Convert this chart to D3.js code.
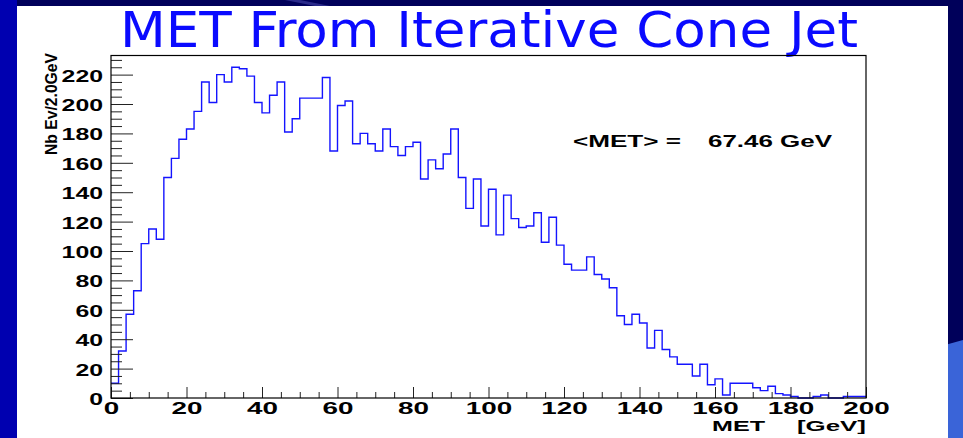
<!DOCTYPE html>
<html>
<head>
<meta charset="utf-8">
<script src="https://cdn.jsdelivr.net/npm/d3@7"></script>
<style>
  body { margin: 0; background: #00005a; }
  svg { display: block; }
  .lbl { font-family: "Liberation Sans", Arial, sans-serif; font-weight: bold; fill: #000; }
</style>
</head>
<body>
<svg id="c" width="963" height="438"></svg>
<script>
// MET histogram, 100 bins of 2 GeV (counts)
var binWidth = 2.0;
var counts = [
  10, 32, 57, 73, 105, 115, 108, 150, 163, 176, 183, 195, 215, 201, 220, 215, 225, 224, 219, 201, 194, 206, 215, 181, 190,
  204, 204, 204, 218, 168, 199, 202, 173, 180, 173, 168, 183, 171, 165, 171, 174, 149, 162, 156, 166, 183, 150, 129, 149, 117,
  142, 111, 138, 122, 116, 117, 126, 106, 123, 104, 91, 87, 87, 96, 84, 81, 75, 56, 50, 57, 51, 34, 46, 33, 28,
  23, 23, 15, 23, 9, 13, 2, 10, 10, 10, 7, 5, 8, 3, 2, 1, 0, 0, 1, 2, 0, 0, 1, 1, 1
];
var xTicks = [0, 20, 40, 60, 80, 100, 120, 140, 160, 180, 200];
var yTicks = [0, 20, 40, 60, 80, 100, 120, 140, 160, 180, 200, 220];
var titleText = "MET From Iterative Cone Jet";
var statText = ["<MET> =", "67.46 GeV"];

var svg = d3.select('#c');

// slide background
svg.append('rect').attr('x', 0).attr('y', 0).attr('width', 963).attr('height', 438).style('fill', '#00005a');
svg.append('rect').attr('x', 0).attr('y', 0).attr('width', 17).attr('height', 438).style('fill', '#0000b0');
svg.append('polygon').attr('points', '945,345 963,340 963,438 945,438').style('fill', '#3a64d8');
svg.append('polygon').attr('points', '285,0 300,0 330,6 315,6').style('fill', '#2a2a8a');
svg.append('rect').attr('x', 17).attr('y', 6).attr('width', 931).attr('height', 432).style('fill', '#fff');

var x = d3.scaleLinear().domain([0, 200]).range([111, 866]);
var y = d3.scaleLinear().domain([0, 233]).range([398, 55.5]);

// title
svg.append('text')
  .attr('x', 120).attr('y', 47)
  .attr('textLength', 738).attr('lengthAdjust', 'spacingAndGlyphs')
  .style('font-family', '"Comic Sans MS", "DejaVu Sans Condensed", "DejaVu Sans", sans-serif')
  .style('font-size', '50px')
  .style('fill', '#0a0aff')
  .text(titleText);

// histogram line
var pts = counts.map(function(c, i) { return [i * binWidth, c]; });
pts.push([counts.length * binWidth, counts[counts.length - 1]]);
var line = d3.line()
  .x(function(d) { return x(d[0]); })
  .y(function(d) { return y(d[1]); })
  .curve(d3.curveStepAfter);
svg.append('path')
  .datum(pts)
  .attr('d', line)
  .style('fill', 'none')
  .style('stroke', '#1414ff')
  .style('stroke-width', 1.4);

// minor ticks
var yMinor = d3.range(0, 233, 5).filter(function(v) { return v % 20 !== 0; });
var xMinor = d3.range(0, 201, 5).filter(function(v) { return v % 20 !== 0; });
svg.append('g').attr('transform', 'translate(111,0)')
  .call(d3.axisLeft(y).tickValues(yMinor).tickSize(-11).tickFormat(''))
  .call(function(g) { g.select('.domain').remove(); });
svg.append('g').attr('transform', 'translate(0,398)')
  .call(d3.axisBottom(x).tickValues(xMinor).tickSize(-6).tickFormat(''))
  .call(function(g) { g.select('.domain').remove(); });

// major ticks + labels
var yAxis = svg.append('g').attr('transform', 'translate(111,0)')
  .call(d3.axisLeft(y).tickValues(yTicks).tickSize(-22).tickPadding(8).tickFormat(d3.format('d')));
yAxis.select('.domain').remove();
yAxis.selectAll('text').attr('class', 'lbl').style('font-size', '16px').attr('dy', '0.4em')
  .attr('textLength', function(d) { return String(d).length * 13.8; })
  .attr('lengthAdjust', 'spacingAndGlyphs');

var xAxis = svg.append('g').attr('transform', 'translate(0,398)')
  .call(d3.axisBottom(x).tickValues(xTicks).tickSize(-11).tickPadding(4).tickFormat(d3.format('d')));
xAxis.select('.domain').remove();
xAxis.selectAll('text').attr('class', 'lbl').style('font-size', '17px')
  .attr('textLength', function(d) { return String(d).length * 15.5; })
  .attr('lengthAdjust', 'spacingAndGlyphs');

svg.selectAll('.tick line').style('stroke', '#222');

// frame
svg.append('rect')
  .attr('x', x(0)).attr('y', y(233))
  .attr('width', x(200) - x(0)).attr('height', y(0) - y(233))
  .style('fill', 'none').style('stroke', '#000').style('stroke-width', 1.2);

// axis titles
svg.append('text').attr('class', 'lbl')
  .attr('transform', 'translate(57,155) rotate(-90)')
  .attr('textLength', 102).attr('lengthAdjust', 'spacingAndGlyphs')
  .style('font-size', '17px')
  .text('Nb Ev/2.0GeV');
svg.append('text').attr('class', 'lbl')
  .attr('x', 712).attr('y', 431)
  .attr('textLength', 53).attr('lengthAdjust', 'spacingAndGlyphs')
  .style('font-size', '15px').text('MET');
svg.append('text').attr('class', 'lbl')
  .attr('x', 797).attr('y', 431)
  .attr('textLength', 69).attr('lengthAdjust', 'spacingAndGlyphs')
  .style('font-size', '15px').text('[GeV]');

// mean annotation
svg.append('text').attr('class', 'lbl')
  .attr('x', 573).attr('y', 147)
  .attr('textLength', 108).attr('lengthAdjust', 'spacingAndGlyphs')
  .style('font-size', '17px').text(statText[0]);
svg.append('text').attr('class', 'lbl')
  .attr('x', 708).attr('y', 147)
  .attr('textLength', 124).attr('lengthAdjust', 'spacingAndGlyphs')
  .style('font-size', '17px').text(statText[1]);
</script>
</body>
</html>
